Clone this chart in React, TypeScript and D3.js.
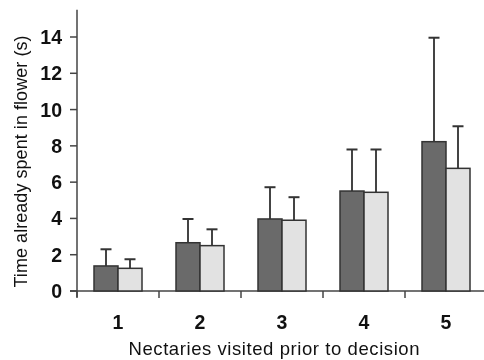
import React, { useEffect, useRef } from 'react';
import * as d3 from 'd3';

const categories = ['1', '2', '3', '4', '5'];
const darkMeans = [1.38, 2.66, 3.97, 5.51, 8.23];
const darkUpper = [2.3, 3.97, 5.72, 7.8, 13.96];
const lightMeans = [1.25, 2.5, 3.9, 5.44, 6.76];
const lightUpper = [1.75, 3.4, 5.17, 7.8, 9.08];
const yTicks = [0, 2, 4, 6, 8, 10, 12, 14];

const Chart = () => {
  const ref = useRef<SVGSVGElement>(null);

  useEffect(() => {
    const svg = d3.select(ref.current);
    svg.selectAll('*').remove();

    const left = 77;
    const right = 487;
    const bottom = 291;

    const x = d3.scaleBand().domain(categories).range([left, right]).padding(0);
    const y = d3.scaleLinear().domain([0, 14]).range([bottom, 37]);
    const yTop = 15.5;

    const font = 'Liberation Sans, Arial, sans-serif';
    const barW = 24;
    const capW = 11;

    // axes
    svg.append('line')
      .attr('x1', left).attr('x2', left)
      .attr('y1', y(yTop)).attr('y2', bottom + 6)
      .attr('stroke', '#444').attr('stroke-width', 1.5);
    svg.append('line')
      .attr('x1', left - 7).attr('x2', 484)
      .attr('y1', bottom).attr('y2', bottom)
      .attr('stroke', '#444').attr('stroke-width', 1.5);

    const yt = svg.append('g');
    yt.selectAll('line').data(yTicks).enter().append('line')
      .attr('x1', left - 7).attr('x2', left)
      .attr('y1', (d) => y(d)).attr('y2', (d) => y(d))
      .attr('stroke', '#444').attr('stroke-width', 1.5);
    yt.selectAll('text').data(yTicks).enter().append('text')
      .attr('x', 62).attr('y', (d) => y(d) + 7)
      .attr('text-anchor', 'end')
      .attr('font-family', font).attr('font-weight', 'bold').attr('font-size', 19.5)
      .attr('fill', '#111')
      .text((d) => d);

    const bounds = categories.map((c) => x(c) as number).concat([right]);
    svg.selectAll('.xtick').data(bounds).enter().append('line')
      .attr('class', 'xtick')
      .attr('x1', (d) => d).attr('x2', (d) => d)
      .attr('y1', bottom).attr('y2', bottom + 7)
      .attr('stroke', '#444').attr('stroke-width', 1.5);

    svg.selectAll('.xlab').data(categories).enter().append('text')
      .attr('class', 'xlab')
      .attr('x', (d) => (x(d) as number) + x.bandwidth() / 2)
      .attr('y', 329)
      .attr('text-anchor', 'middle')
      .attr('font-family', font).attr('font-weight', 'bold').attr('font-size', 19.5)
      .attr('fill', '#111')
      .text((d) => d);

    const series = [
      { means: darkMeans, upper: darkUpper, fill: '#6a6a6a', off: -barW },
      { means: lightMeans, upper: lightUpper, fill: '#e2e2e2', off: 0 },
    ];

    series.forEach((s) => {
      const g = svg.append('g');
      categories.forEach((c, i) => {
        const cx = (x(c) as number) + x.bandwidth() / 2 + s.off;
        const mid = cx + barW / 2;
        g.append('line')
          .attr('x1', mid).attr('x2', mid)
          .attr('y1', y(s.upper[i])).attr('y2', y(s.means[i]))
          .attr('stroke', '#444').attr('stroke-width', 2);
        g.append('line')
          .attr('x1', mid - capW / 2).attr('x2', mid + capW / 2)
          .attr('y1', y(s.upper[i])).attr('y2', y(s.upper[i]))
          .attr('stroke', '#333').attr('stroke-width', 2);
        g.append('rect')
          .attr('x', cx).attr('y', y(s.means[i]))
          .attr('width', barW).attr('height', bottom - y(s.means[i]))
          .attr('fill', s.fill).attr('stroke', '#333').attr('stroke-width', 1.5);
      });
    });

    svg.append('text')
      .attr('x', 274).attr('y', 355)
      .attr('text-anchor', 'middle')
      .attr('font-family', font).attr('font-size', 18.5)
      .attr('textLength', 291).attr('lengthAdjust', 'spacing')
      .attr('fill', '#111')
      .text('Nectaries visited prior to decision');

    svg.append('text')
      .attr('transform', 'translate(27,161.5) rotate(-90)')
      .attr('text-anchor', 'middle')
      .attr('font-family', font).attr('font-size', 18)
      .attr('textLength', 252).attr('lengthAdjust', 'spacing')
      .attr('fill', '#111')
      .text('Time already spent in flower (s)');
  }, []);

  return (
    <svg
      ref={ref}
      width={484}
      height={360}
      style={{ display: 'block', position: 'fixed', top: 0, left: 0 }}
    />
  );
};

export default function App() {
  return <Chart />;
}
